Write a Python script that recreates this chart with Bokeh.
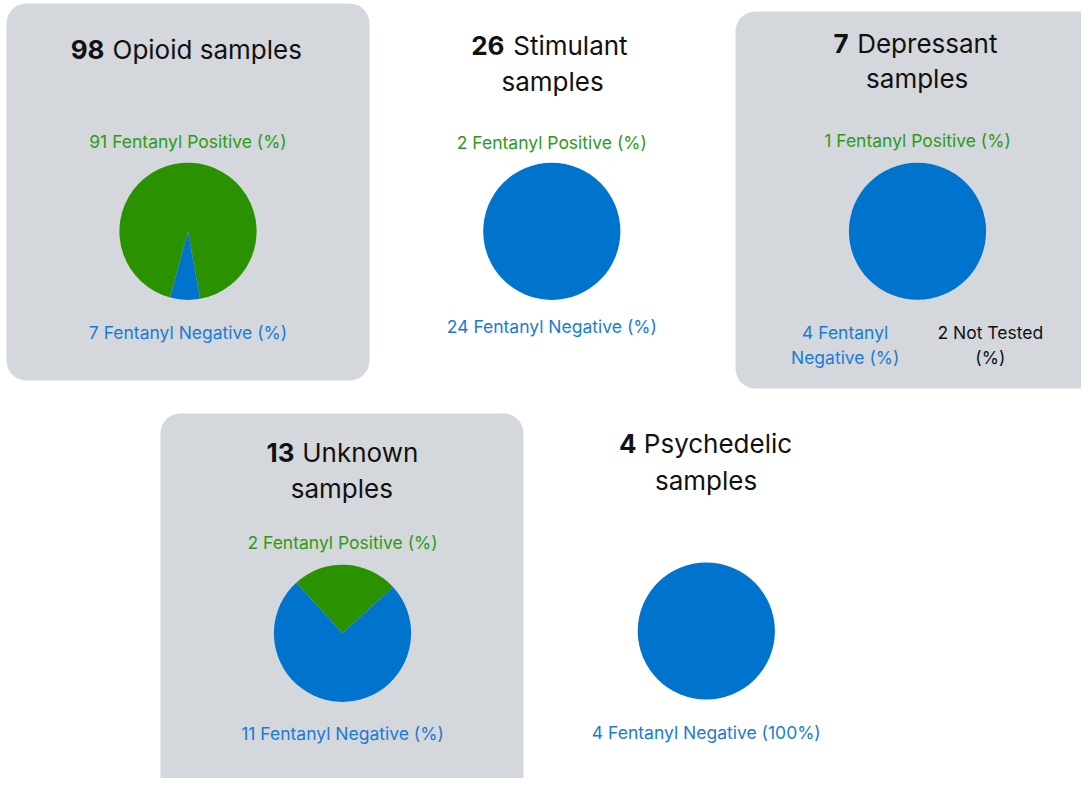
from bokeh.plotting import figure
from bokeh.models import Range1d
from bokeh.core.properties import value
from bokeh.embed import file_html
from bokeh.resources import INLINE
import math

# ---------------- data ----------------
categories = ["Opioid", "Stimulant", "Depressant", "Unknown", "Psychedelic"]
totals = [98, 26, 7, 13, 4]
positive = [91, 2, 1, 2, None]
negative = [7, 24, 4, 11, 4]
not_tested = [None, None, 2, None, None]
negative_pct = [None, None, None, None, "100%"]
# shares of each pie as drawn (percent of circle)
pie_green_share = [93, 0, 0, 25, 0]
pie_blue_share = [7, 100, 100, 75, 100]
boxed = [True, False, True, True, False]

# ---------------- layout (px) ----------------
W, H = 1081, 778
def Y(py):
    return H - py

pie_cx = [187.5, 551.3, 917.0, 342.0, 705.8]
pie_cy = [230.8, 230.8, 230.8, 632.8, 630.5]
R = 68.6
boxes = [(6, 369, 3, 380), None, (735, 1110, 11, 388), (160, 523, 413, 810), None]
num_end = [104, 504, 848, 294, 636]
word_start = [112, 512.7, 856.7, 301.7, 643.3]
title_y1 = [49, 45, 43, 452, 443]
title_y2 = [None, 81, 78, 488, 480]
title_cx = [187.5, 552, 916.7, 341.3, 705.5]
pos_y = [140.7, 141.7, 140.0, 541.7, None]
neg_y = [331.7, 326.0, 331.7, 733.3, 732.3]

GREEN = "#2a9200"
BLUE = "#0073cd"
GREEN_T = "#2f9a17"
BLUE_T = "#1b7bd2"
BOX = "#d4d7dc"
FONT = "Inter"
TS = "26px"
LS = "17.5px"

p = figure(width=W, height=H, output_backend="svg", toolbar_location=None,
           x_range=Range1d(0, W), y_range=Range1d(0, H), min_border=0)
p.axis.visible = False
p.grid.visible = False
p.outline_line_color = None
p.background_fill_color = "white"
p.border_fill_color = "white"

# boxes
bl, br, bt, bb = [], [], [], []
for i, b in enumerate(boxes):
    if boxed[i] and b is not None:
        bl.append(b[0]); br.append(b[1]); bt.append(Y(b[2])); bb.append(Y(b[3]))
p.quad(left=bl, right=br, top=bt, bottom=bb, fill_color=BOX, line_color=None,
       border_radius=20)

# pies
for i in range(len(categories)):
    g = pie_green_share[i]
    b = pie_blue_share[i]
    tot = g + b
    cx, cy = pie_cx[i], Y(pie_cy[i])
    center = math.radians(87.5)
    ga = 2 * math.pi * g / tot
    if g == 0:
        p.circle(x=[cx], y=[cy], radius=R, fill_color=BLUE, line_color=None)
        continue
    gs, ge = center - ga / 2, center + ga / 2
    p.wedge(x=[cx], y=[cy], radius=R, start_angle=gs, end_angle=ge,
            fill_color=GREEN, line_color=None)
    p.wedge(x=[cx], y=[cy], radius=R, start_angle=ge, end_angle=gs + 2 * math.pi,
            fill_color=BLUE, line_color=None)

# titles
for i, cat in enumerate(categories):
    one_line = title_y2[i] is None
    p.text(x=[num_end[i]], y=[Y(title_y1[i])], text=[str(totals[i])],
           text_font=value(FONT), text_font_style="bold", text_font_size=TS,
           text_align="right", text_baseline="middle", text_color="#111111")
    rest = f"{cat} samples" if one_line else f"{cat}"
    p.text(x=[word_start[i]], y=[Y(title_y1[i])], text=[rest],
           text_font=value(FONT), text_font_size=TS,
           text_align="left", text_baseline="middle", text_color="#111111")
    if not one_line:
        p.text(x=[title_cx[i]], y=[Y(title_y2[i])], text=["samples"],
               text_font=value(FONT), text_font_size=TS,
               text_align="center", text_baseline="middle", text_color="#111111")

# labels
for i in range(len(categories)):
    if positive[i] is not None:
        p.text(x=[pie_cx[i]], y=[Y(pos_y[i])],
               text=[f"{positive[i]} Fentanyl Positive (%)"],
               text_font=value(FONT), text_font_size=LS, text_align="center",
               text_baseline="middle", text_color=GREEN_T)
    pct = negative_pct[i] if negative_pct[i] else "%"
    if not_tested[i] is None:
        p.text(x=[pie_cx[i]], y=[Y(neg_y[i])],
               text=[f"{negative[i]} Fentanyl Negative ({pct})"],
               text_font=value(FONT), text_font_size=LS, text_align="center",
               text_baseline="middle", text_color=BLUE_T)
    else:
        lx = pie_cx[i] - 72.3
        rx = pie_cx[i] + 72.8
        p.text(x=[lx, lx], y=[Y(neg_y[i]), Y(neg_y[i] + 25)],
               text=[f"{negative[i]} Fentanyl", f"Negative ({pct})"],
               text_font=value(FONT), text_font_size=LS, text_align="center",
               text_baseline="middle", text_color=BLUE_T)
        p.text(x=[rx, rx], y=[Y(neg_y[i]), Y(neg_y[i] + 25)],
               text=[f"{not_tested[i]} Not Tested", "(%)"],
               text_font=value(FONT), text_font_size=LS, text_align="center",
               text_baseline="middle", text_color="#111111")

open("out.html", "w").write(file_html(p, INLINE))
